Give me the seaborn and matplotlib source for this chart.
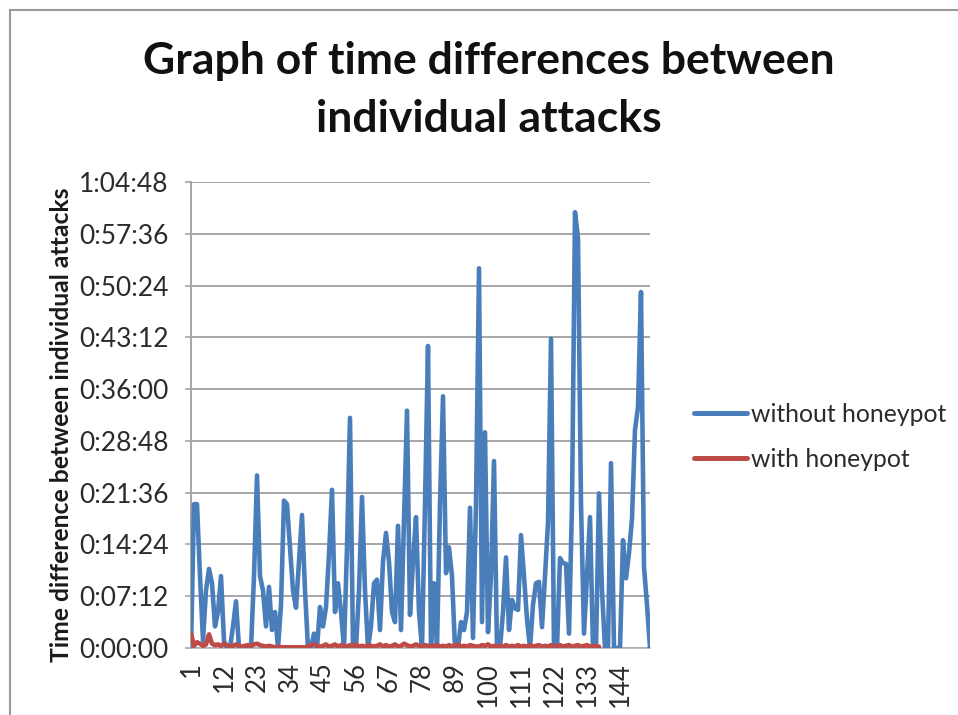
import matplotlib
matplotlib.use("Agg")
import matplotlib.pyplot as plt
from matplotlib.ticker import FuncFormatter, FixedLocator
from matplotlib.patches import Rectangle
import seaborn as sns
import pandas as pd

# Time between consecutive attacks, in minutes
without_honeypot = [
    0, 20, 20, 10, 1, 8, 11, 9, 3, 5, 10, 1, 0, 0, 3, 6.5, 0, 0, 0, 0,
    0, 10, 24, 10, 8, 3, 8.5, 2.5, 5, 0, 6, 20.5, 20, 14, 8, 5.6, 12, 18.5, 8, 0,
    0, 2, 0, 5.7, 3, 5.7, 13, 22, 5, 9, 5, 0, 14, 32, 0, 0, 8, 21, 8, 0,
    3, 9, 9.5, 2.5, 12, 16, 12, 5, 3.6, 17, 2.5, 18, 33, 4.6, 12, 18.2, 5, 0, 20, 42,
    0, 9, 0, 20, 35, 10.4, 14, 10, 0, 0, 3.6, 2.5, 5, 19.5, 1.4, 20, 52.8, 3.6, 30, 2.2,
    10, 26, 0, 0, 5, 12.6, 2.5, 6.7, 5.5, 5.3, 15.7, 10, 4, 0, 6, 9, 9.2, 2.9, 10, 17.4,
    43, 0, 0, 12.5, 11.8, 11.7, 2, 20, 60.6, 57, 20, 2, 10, 18.2, 0, 0, 21.5, 8, 0, 0,
    25.7, 0, 0, 0, 15, 9.7, 13.2, 18, 30.3, 33.5, 49.5, 11.3, 6, 0,
]
with_honeypot = [
    2.0, 0.3, 0.8, 0.6, 0.3, 0.5, 1.9, 0.6, 0.4, 0.5, 0.3, 0.6, 0.4, 0.2, 0.3, 0.5, 0.3, 0.2, 0.3, 0.4,
    0.3, 0.5, 0.6, 0.4, 0.3, 0.2, 0.3, 0.2, 0.1, 0.2, 0.1, 0.1, 0.1, 0.1, 0.1, 0.1, 0.1, 0.1, 0.1, 0.2,
    0.4, 0.5, 0.3, 0.2, 0.3, 0.5, 0.2, 0.3, 0.5, 0.2, 0.4, 0.3, 0.2, 0.4, 0.3, 0.5, 0.2, 0.3, 0.2, 0.4,
    0.3, 0.2, 0.3, 0.5, 0.2, 0.4, 0.2, 0.3, 0.5, 0.2, 0.3, 0.6, 0.4, 0.2, 0.3, 0.5, 0.3, 0.2, 0.4, 0.3,
    0.2, 0.3, 0.4, 0.2, 0.3, 0.2, 0.4, 0.2, 0.3, 0.5, 0.2, 0.3, 0.2, 0.4, 0.3, 0.2, 0.2, 0.4, 0.3, 0.5,
    0.2, 0.3, 0.2, 0.3, 0.2, 0.4, 0.2, 0.3, 0.2, 0.4, 0.2, 0.3, 0.2, 0.4, 0.2, 0.3, 0.4, 0.2, 0.3, 0.2,
    0.4, 0.2, 0.3, 0.4, 0.2, 0.3, 0.4, 0.2, 0.3, 0.4, 0.2, 0.3, 0.4, 0.2, 0.3, 0.2, 0.2,
]
series_names = ["without honeypot", "with honeypot"]
series_colors = ["#4A7EBB", "#BE4B48"]
x_tick_labels = [1, 12, 23, 34, 45, 56, 67, 78, 89, 100, 111, 122, 133, 144]
y_tick_seconds = [0, 432, 864, 1296, 1728, 2160, 2592, 3024, 3456, 3888]

rows = []
for name, vals in zip(series_names, [without_honeypot, with_honeypot]):
    for i, v in enumerate(vals, start=1):
        rows.append({"attack": i, "seconds": v * 60.0, "series": name})
df = pd.DataFrame(rows)

sns.set_theme(style="white")
plt.rcParams["font.family"] = ["Lato", "DejaVu Sans"]
plt.rcParams["lines.solid_joinstyle"] = "round"
plt.rcParams["lines.solid_capstyle"] = "round"

fig = plt.figure(figsize=(9.58, 7.15), dpi=100)
fig.patch.set_facecolor("white")
ax = fig.add_axes([191 / 958, 1 - 648 / 715, (650 - 191) / 958, (648 - 182) / 715])

# chart-area frame
fig.patches.append(Rectangle((10 / 958, -0.05), 1.1, 1 - 10 / 715 + 0.05,
                             transform=fig.transFigure, fill=False,
                             edgecolor="#9a9a9a", linewidth=1.5))

sns.lineplot(data=df, x="attack", y="seconds", hue="series", hue_order=series_names,
             palette=series_colors, estimator=None, linewidth=3.3, ax=ax,
             legend=True, zorder=3)

ax.set_xlim(1, len(without_honeypot))
ax.set_ylim(0, 3888)
ax.yaxis.set_major_locator(FixedLocator(y_tick_seconds))


def hms(v, pos=None):
    s = int(round(v))
    return f"{s // 3600}:{(s % 3600) // 60:02d}:{s % 60:02d}"


ax.yaxis.set_major_formatter(FuncFormatter(hms))
ax.set_xticks(x_tick_labels)
ax.set_xticklabels([str(t) for t in x_tick_labels], rotation=90)
ax.grid(axis="y", color="#a6a6a6", linewidth=1.4, zorder=0)
ax.grid(axis="x", visible=False)
ax.set_axisbelow(True)
for side in ["top", "right"]:
    ax.spines[side].set_visible(False)
ax.spines["left"].set_color("#a6a6a6")
ax.spines["left"].set_linewidth(1.4)
ax.spines["bottom"].set_color("#b0b0b0")
ax.spines["bottom"].set_linewidth(1.2)
ax.tick_params(axis="y", which="major", left=True, length=4, width=1.2, color="#a6a6a6",
               pad=12, labelsize=19, labelcolor="#2b2b2b")
ax.tick_params(axis="x", which="major", bottom=False, pad=4, labelsize=18.5,
               labelcolor="#2b2b2b")
ax.set_xlabel("")
ax.set_ylabel("")

handles, labels = ax.get_legend_handles_labels()
ax.legend_.remove()
leg = fig.legend(handles, labels, loc="center left", bbox_to_anchor=(0.701, 1 - 437 / 715),
                 frameon=False, fontsize=17.8, handlelength=2.15, handletextpad=0.15,
                 labelspacing=0.9, labelcolor="#2b2b2b")
for line in leg.get_lines():
    line.set_linewidth(3.6)

fig.text(62 / 958, 1 - 425 / 715, "Time difference between individual attacks",
         rotation=90, ha="center", va="center", fontsize=17.8, fontweight="bold",
         color="#1a1a1a")
fig.text(489 / 958, 1 - 90 / 715, "Graph of time differences between\nindividual attacks",
         ha="center", va="center", fontsize=32, fontweight="bold", color="#111111",
         linespacing=1.55)

fig.savefig("out.png", dpi=100, facecolor="white")
